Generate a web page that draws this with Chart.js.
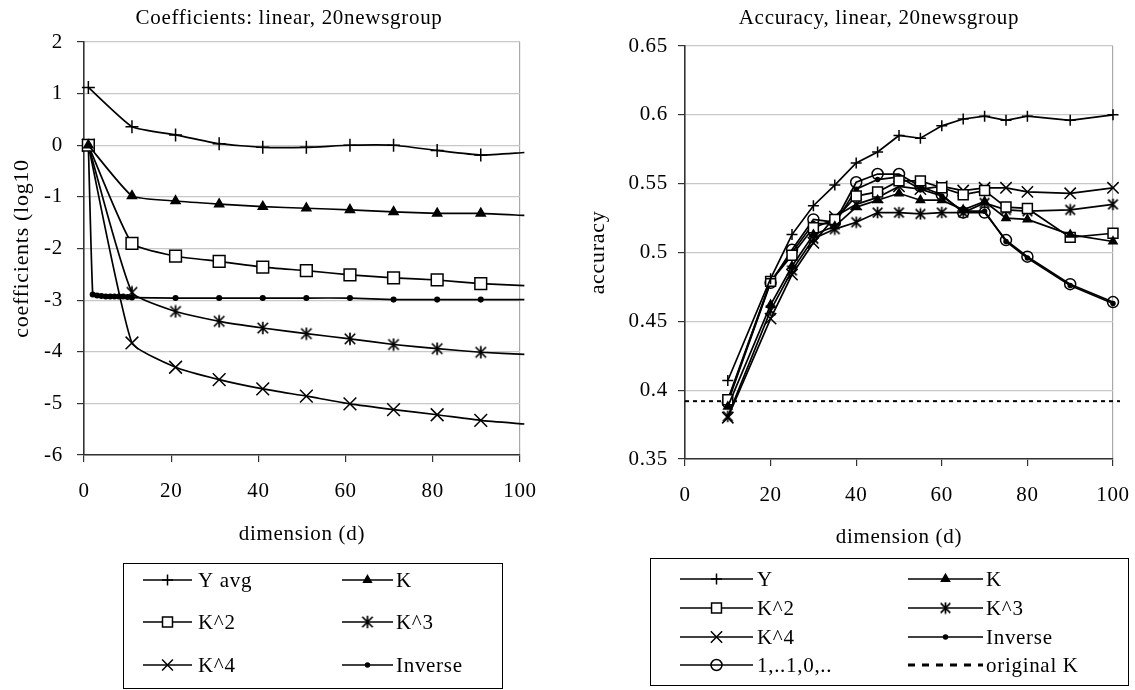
<!DOCTYPE html>
<html>
<head>
<meta charset="utf-8">
<script src="https://cdn.jsdelivr.net/npm/chart.js@4.4.0/dist/chart.umd.min.js"></script>
<style>
  body { margin: 0; background: #fff; }
  #wrap { position: relative; width: 1135px; height: 690px; }
  canvas { position: absolute; top: 0; }
  #c1 { left: 0; }
  #c2 { left: 560px; }
</style>
</head>
<body>
<div id="wrap">
  <canvas id="c1" width="560" height="690"></canvas>
  <canvas id="c2" width="575" height="690"></canvas>
</div>
<script>
// left chart: coefficients (log10) against dimension
const leftX = [1, 11, 21, 31, 41, 51, 61, 71, 81, 91, 101];
const yAvgL = [1.12, 0.36, 0.2, 0.03, -0.04, -0.04, 0, 0, -0.1, -0.19, -0.14];
const kL = [0, -0.98, -1.08, -1.14, -1.19, -1.22, -1.25, -1.29, -1.32, -1.32, -1.36];
const k2L = [0, -1.9, -2.15, -2.25, -2.36, -2.43, -2.51, -2.57, -2.61, -2.68, -2.72];
const k3L = [0, -2.85, -3.22, -3.41, -3.54, -3.65, -3.75, -3.86, -3.94, -4.01, -4.05];
const k4L = [0, -3.83, -4.3, -4.54, -4.72, -4.86, -5.01, -5.12, -5.22, -5.33, -5.4];
const invXL = [1, 2, 3, 4, 5, 6, 7, 8, 9, 10, 11, 21, 31, 41, 51, 61, 71, 81, 91, 101];
const invL = [0, -2.89, -2.91, -2.92, -2.93, -2.93, -2.93, -2.93, -2.93, -2.94, -2.95, -2.96, -2.96, -2.96, -2.96, -2.96, -2.99, -2.99, -2.99, -2.99];

// right chart: accuracy against dimension
const rightX = [10, 20, 25, 30, 35, 40, 45, 50, 55, 60, 65, 70, 75, 80, 90, 100, 110];
const yR = [0.407, 0.481, 0.513, 0.534, 0.549, 0.565, 0.573, 0.585, 0.583, 0.592, 0.597, 0.599, 0.596, 0.599, 0.596, 0.600, 0.602];
const kR = [0.388, 0.462, 0.490, 0.513, 0.519, 0.533, 0.538, 0.543, 0.538, 0.538, 0.531, 0.537, 0.525, 0.524, 0.513, 0.508, 0.503];
const k2R = [0.393, 0.479, 0.498, 0.518, 0.524, 0.541, 0.544, 0.552, 0.552, 0.547, 0.542, 0.545, 0.533, 0.532, 0.511, 0.514, 0.515];
const k3R = [0.381, 0.458, 0.487, 0.510, 0.517, 0.522, 0.529, 0.529, 0.528, 0.529, 0.529, 0.536, 0.531, 0.530, 0.531, 0.535, 0.537];
const k4R = [0.380, 0.452, 0.484, 0.507, 0.526, 0.535, 0.540, 0.548, 0.546, 0.548, 0.545, 0.547, 0.547, 0.544, 0.543, 0.547, 0.549];
const invR = [0.392, 0.479, 0.500, 0.521, 0.521, 0.546, 0.553, 0.555, 0.546, 0.541, 0.530, 0.530, 0.508, 0.496, 0.476, 0.463, 0.441];
const oneZeroR = [0.391, 0.478, 0.502, 0.524, 0.522, 0.551, 0.557, 0.557, 0.548, 0.542, 0.529, 0.529, 0.509, 0.497, 0.477, 0.464, 0.442];
const origKX = [0, 110];
const origKR = [0.392, 0.392];

const xTicks = [0, 20, 40, 60, 80, 100];

const serif = "'Liberation Serif', 'Times New Roman', serif";
Chart.defaults.font.family = serif;
Chart.defaults.color = "#000";

// excel style star marker (x plus vertical bar)
function starImage(size, lw) {
  let c = document.createElement("canvas");
  c.width = size;
  c.height = size;
  let g = c.getContext("2d");
  let h = size / 2, r = h - lw / 2, d = r * 0.85;
  g.strokeStyle = "#000";
  g.lineWidth = lw;
  g.beginPath();
  g.moveTo(h, h - r); g.lineTo(h, h + r);
  g.moveTo(h - d, h - d); g.lineTo(h + d, h + d);
  g.moveTo(h - d, h + d); g.lineTo(h + d, h - d);
  g.stroke();
  return c;
}

function series(label, xs, ys, style, r) {
  return Object.assign({
    label: label,
    data: xs.map((x, i) => ({ x: x, y: ys[i] })),
    borderColor: "#000",
    borderWidth: 1.7,
    backgroundColor: "#000",
    pointBorderColor: "#000",
    pointBackgroundColor: "#000",
    pointBorderWidth: 1.5,
    markR: r,
    pointRadius: (c) => (c.raw && c.raw.x > 100 ? 0 : r),
    pointHoverRadius: (c) => (c.raw && c.raw.x > 100 ? 0 : r),
    clip: { left: 8, top: 8, right: 7, bottom: 8 },
  }, style);
}

// the excel text is a little wider spaced
const spacing = {
  id: "spacing",
  beforeDraw(chart) {
    chart.ctx.letterSpacing = "0.7px";
  },
};

// title centred where the excel one sits
const plotTitle = {
  id: "plotTitle",
  afterDraw(chart, args, o) {
    let ctx = chart.ctx;
    ctx.save();
    ctx.letterSpacing = "0.7px";
    ctx.font = "21px " + serif;
    ctx.fillStyle = "#000";
    ctx.textAlign = "center";
    ctx.textBaseline = "middle";
    ctx.fillText(o.text, o.x, o.y);
    ctx.restore();
  },
};

// boxed two-column legend like the excel one
const boxLegend = {
  id: "boxLegend",
  afterDraw(chart, args, o) {
    let ctx = chart.ctx;
    ctx.save();
    ctx.letterSpacing = "0.7px";
    ctx.strokeStyle = "#000";
    ctx.lineWidth = 1;
    ctx.strokeRect(o.box[0] + 0.5, o.box[1] + 0.5, o.box[2], o.box[3]);
    ctx.font = o.font + "px " + serif;
    ctx.textBaseline = "middle";
    ctx.textAlign = "left";
    chart.data.datasets.forEach((ds, i) => {
      let col = o.cols[i % 2];
      let y = o.rows[Math.floor(i / 2)];
      ctx.strokeStyle = "#000";
      ctx.beginPath();
      if (ds.borderDash) {
        ctx.setLineDash([7, 7]);
        ctx.lineWidth = 3;
      } else {
        ctx.setLineDash([]);
        ctx.lineWidth = 1.5;
      }
      ctx.moveTo(col[0], y);
      ctx.lineTo(col[1], y);
      ctx.stroke();
      ctx.setLineDash([]);
      if (ds.markR > 0) {
        ctx.fillStyle = ds.pointBackgroundColor;
        ctx.lineWidth = ds.pointBorderWidth;
        Chart.helpers.drawPoint(ctx, {
          pointStyle: ds.pointStyle,
          radius: ds.markR * o.markScale,
          rotation: 0,
          borderWidth: ds.pointBorderWidth,
        }, (col[0] + col[1]) / 2, y);
      }
      ctx.fillStyle = "#000";
      ctx.fillText(ds.label, col[2], y + 1);
    });
    ctx.restore();
  },
};

function axisX(padBottom, h) {
  return {
    type: "linear",
    min: 0,
    max: 100,
    afterBuildTicks: (s) => { s.ticks = xTicks.map((v) => ({ value: v })); },
    ticks: { font: { size: 21 }, padding: 17, color: "#000" },
    grid: {
      color: (c) => (c.tick && c.tick.value === 100 ? "#a8a8a8" : "rgba(0,0,0,0)"),
      tickColor: "#333",
      tickLength: 7,
      lineWidth: 1.2,
    },
    border: { color: "#333", width: 1.6 },
    title: { display: true, text: "dimension (d)", font: { size: 21 }, padding: { top: 0, bottom: padBottom } },
    afterFit: (s) => {
      s.height = h;
      s.paddingLeft = 0;
      s.paddingRight = 0;
    },
  };
}

// left chart
let c1 = document.getElementById("c1");
let leftChart = new Chart(c1, {
  type: "line",
  data: {
    datasets: [
      series("Y avg", leftX, yAvgL, { pointStyle: "cross", tension: 0.15 }, 6.5),
      series("K", leftX, kL, { pointStyle: "triangle", tension: 0.15 }, 5.2),
      series("K^2", leftX, k2L, { pointStyle: "rect", pointBackgroundColor: "#fff", tension: 0.15 }, 8.3),
      series("K^3", leftX, k3L, { pointStyle: starImage(14, 1.7), tension: 0.15 }, 6),
      series("K^4", leftX, k4L, { pointStyle: "crossRot", tension: 0.15 }, 9),
      series("Inverse", invXL, invL, { pointStyle: "circle", tension: 0.15 }, 2.3),
    ],
  },
  options: {
    responsive: false,
    animation: false,
    devicePixelRatio: 1,
    events: [],
    layout: { padding: { left: 0, right: 40, top: 42, bottom: 130 } },
    plugins: {
      legend: { display: false },
      tooltip: { enabled: false },
      title: { display: false },
      plotTitle: { text: "Coefficients: linear, 20newsgroup", x: 289, y: 18 },
      boxLegend: {
        box: [123, 563, 379, 125],
        rows: [580, 622, 665],
        cols: [[143, 192, 198], [342, 393, 396]],
        font: 21,
        markScale: 0.85,
      },
    },
    scales: {
      x: axisX(13, 105),
      y: {
        min: -6,
        max: 2,
        ticks: { stepSize: 1, font: { size: 21 }, padding: 14, color: "#000" },
        grid: { color: "#c8c8c8", tickColor: "#333", tickLength: 7, lineWidth: 1.2 },
        border: { color: "#333", width: 1.6 },
        title: { display: true, text: "coefficients (log10", font: { size: 22 }, padding: { top: 9 } },
        afterFit: (s) => { s.width = 84; },
      },
    },
  },
  plugins: [spacing, plotTitle, boxLegend],
});

// right chart
let c2 = document.getElementById("c2");
let rightChart = new Chart(c2, {
  type: "line",
  data: {
    datasets: [
      series("Y", rightX, yR, { pointStyle: "cross" }, 5.5),
      series("K", rightX, kR, { pointStyle: "triangle" }, 4.7),
      series("K^2", rightX, k2R, { pointStyle: "rect", pointBackgroundColor: "#fff" }, 7),
      series("K^3", rightX, k3R, { pointStyle: starImage(13, 1.7) }, 6),
      series("K^4", rightX, k4R, { pointStyle: "crossRot" }, 8),
      series("Inverse", rightX, invR, { pointStyle: "circle" }, 2),
      series("1,..1,0,..", rightX, oneZeroR, { pointStyle: "circle", pointBackgroundColor: "rgba(0,0,0,0)" }, 5.5),
      series("original K", origKX, origKR, { borderDash: [4, 4], borderWidth: 2, pointStyle: "circle" }, 0),
    ],
  },
  options: {
    responsive: false,
    animation: false,
    devicePixelRatio: 1,
    events: [],
    layout: { padding: { left: 0, right: 22, top: 46, bottom: 130 } },
    plugins: {
      legend: { display: false },
      tooltip: { enabled: false },
      title: { display: false },
      plotTitle: { text: "Accuracy, linear, 20newsgroup", x: 319, y: 18 },
      boxLegend: {
        box: [90, 558, 478, 127],
        rows: [579, 608, 637, 665],
        cols: [[120, 193, 197], [348, 423, 426]],
        font: 21,
        markScale: 1,
      },
    },
    scales: {
      x: axisX(10, 101),
      y: {
        min: 0.35,
        max: 0.65,
        ticks: {
          stepSize: 0.05,
          font: { size: 21 },
          padding: 10,
          color: "#000",
          callback: (v) => String(+v.toFixed(2)),
        },
        grid: { color: "#c8c8c8", tickColor: "#333", tickLength: 7, lineWidth: 1.2 },
        border: { color: "#333", width: 1.6 },
        title: { display: true, text: "accuracy", font: { size: 22 }, padding: { top: 25 } },
        afterFit: (s) => { s.width = 125; },
      },
    },
  },
  plugins: [spacing, plotTitle, boxLegend],
});
</script>
</body>
</html>
